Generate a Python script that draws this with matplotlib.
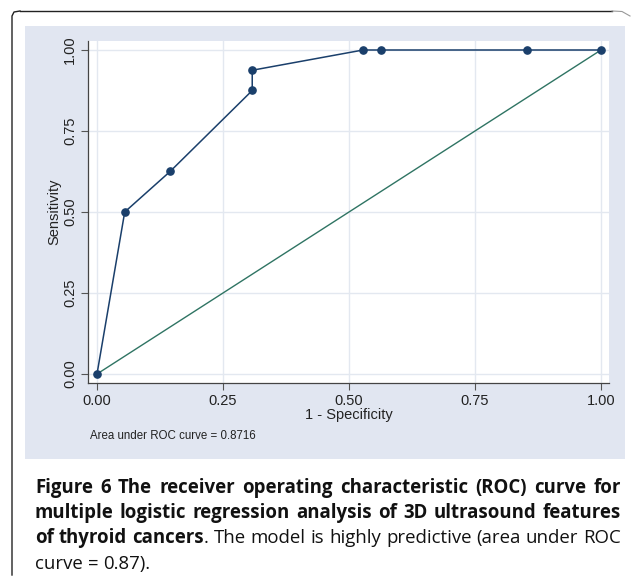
"""
ROC curve (Figure 6): sensitivity vs 1 - specificity, Stata-like look, with caption.
"""
import matplotlib
matplotlib.use("Agg")
import matplotlib.pyplot as plt
from matplotlib.lines import Line2D
from matplotlib.patches import Rectangle

# data
one_minus_spec = [0.0, 0.055, 0.145, 0.308, 0.308, 0.528, 0.563, 0.853, 1.0]
sensitivity = [0.0, 0.5, 0.625, 0.875, 0.9375, 1.0, 1.0, 1.0, 1.0]
ref_x = [0.0, 1.0]
ref_y = [0.0, 1.0]
ticks = [0.0, 0.25, 0.5, 0.75, 1.0]
tick_labels = ["0.00", "0.25", "0.50", "0.75", "1.00"]
auc_note = "Area under ROC curve = 0.8716"

caption_lines = [
    [[("Figure", "bold")], [("6", "bold")], [("The", "bold")], [("receiver", "bold")],
     [("operating", "bold")], [("characteristic", "bold")], [("(ROC)", "bold")],
     [("curve", "bold")], [("for", "bold")]],
    [[("multiple", "bold")], [("logistic", "bold")], [("regression", "bold")],
     [("analysis", "bold")], [("of", "bold")], [("3D", "bold")], [("ultrasound", "bold")],
     [("features", "bold")]],
    [[("of", "bold")], [("thyroid", "bold")], [("cancers", "bold"), (".", "normal")],
     [("The", "normal")], [("model", "normal")], [("is", "normal")], [("highly", "normal")],
     [("predictive", "normal")], [("(area", "normal")], [("under", "normal")],
     [("ROC", "normal")]],
    [[("curve", "normal")], [("=", "normal")], [("0.87).", "normal")]],
]

NAVY = "#1a3f6b"
GREEN = "#2f7463"
PANEL = "#e1e6f1"
GRID = "#e3e8f0"

W, H = 634, 579
plt.rcParams["font.family"] = ["Liberation Sans", "DejaVu Sans"]
fig = plt.figure(figsize=(W / 100, H / 100), dpi=100)


def fx(px):
    return px / W


def fy(py):
    return 1 - py / H


# outer frame (rounded top-left corner)
fig.add_artist(Line2D([fx(12), fx(12), fx(14), fx(20)],
                      [fy(575), fy(16), fy(12), fy(11)], color="#222222", lw=1.0))
fig.add_artist(Line2D([fx(20), fx(612)], [fy(11), fy(11)], color="#222222", lw=1.0))
fig.add_artist(Line2D([fx(612), fx(622), fx(630)], [fy(11), fy(11.5), fy(16)],
                      color="#999999", lw=0.8))

# graph region background
fig.add_artist(Rectangle((fx(25), fy(459)), fx(625) - fx(25), fy(26) - fy(459),
                         facecolor=PANEL, edgecolor="none", zorder=0))

ax = fig.add_axes([fx(88), fy(383), fx(609) - fx(88), fy(41) - fy(383)])
ax.set_facecolor("white")
ax.set_xlim(-9 / 504, 1 + 8 / 504)
ax.set_ylim(-9 / 324, 1 + 9 / 324)

ax.plot(ref_x, ref_y, color=GREEN, lw=1.0, zorder=2)
ax.plot(one_minus_spec, sensitivity, color=NAVY, lw=1.1, marker="o", ms=5.2,
        zorder=3, clip_on=False)

ax.set_xticks(ticks)
ax.set_xticklabels(tick_labels)
ax.set_yticks(ticks)
ax.set_yticklabels(tick_labels, rotation=90, va="center")
ax.grid(True, color=GRID, lw=1.0)
ax.set_axisbelow(True)
for side in ("top", "right"):
    ax.spines[side].set_visible(False)
for side in ("left", "bottom"):
    ax.spines[side].set_color("#444444")
    ax.spines[side].set_linewidth(0.9)
ax.tick_params(axis="both", length=5, width=0.8, color="#555555",
               labelsize=10.5, labelcolor="#222222", pad=3)

ax.set_xlabel("1 - Specificity", fontsize=10.5, color="#222222", labelpad=0)
ax.set_ylabel("Sensitivity", fontsize=10.5, color="#222222", labelpad=1)

fig.text(fx(90), fy(436), auc_note, fontsize=8.3, color="#222222", va="center")

# justified caption
renderer = fig.canvas.get_renderer()
cap_size = 13.4
cap_family = ["Open Sans", "DejaVu Sans"]
left, right = 35, 621
line_y = [493, 518, 543, 569]


def word_pieces(word, x, y, draw=True):
    total = 0.0
    for piece, weight in word:
        t = fig.text(fx(x + total), fy(y), piece, fontsize=cap_size, fontweight=weight,
                     family=cap_family, color="#111111", va="baseline", ha="left")
        w = t.get_window_extent(renderer=renderer).width
        if not draw:
            t.remove()
        total += w
    return total


probe = fig.text(0, 0, "a a", fontsize=cap_size, family=cap_family)
probe2 = fig.text(0, 0, "aa", fontsize=cap_size, family=cap_family)
space_w = (probe.get_window_extent(renderer=renderer).width
           - probe2.get_window_extent(renderer=renderer).width)
probe.remove()
probe2.remove()

for i, (words, y) in enumerate(zip(caption_lines, line_y)):
    widths = [word_pieces(w, 0, 0, draw=False) for w in words]
    if i < len(caption_lines) - 1:
        gap = max((right - left - sum(widths)) / (len(words) - 1), 0.6 * space_w)
    else:
        gap = space_w
    x = left
    for w, wd in zip(words, widths):
        word_pieces(w, x, y)
        x += wd + gap

fig.savefig("out.png", dpi=100)
